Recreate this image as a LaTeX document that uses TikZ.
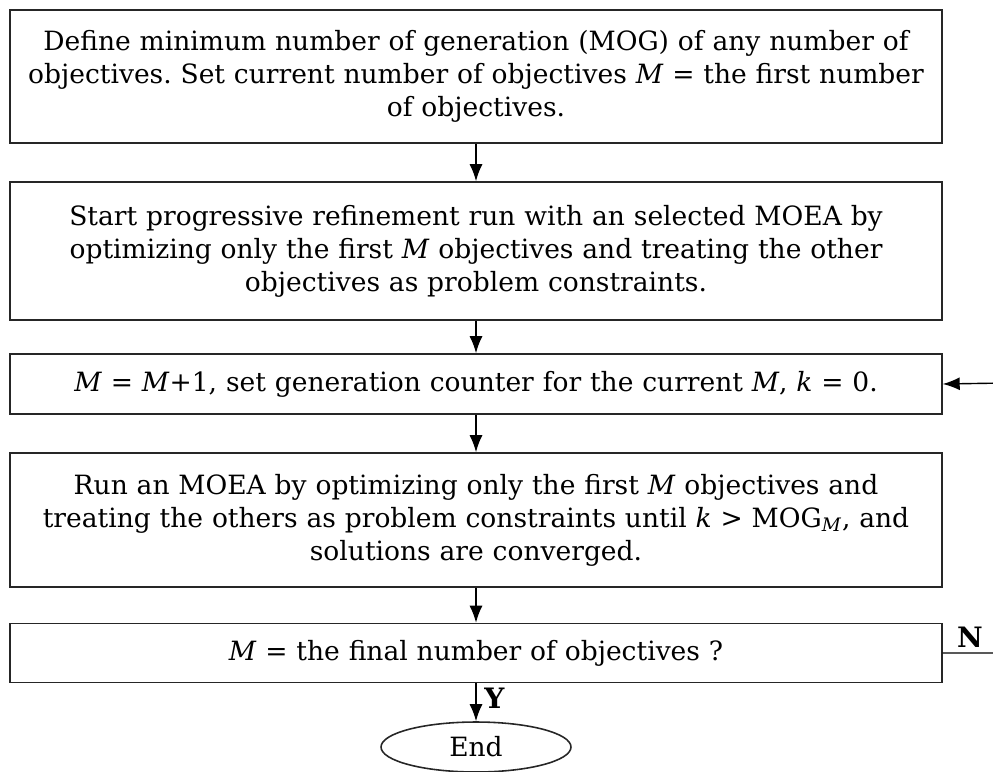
\documentclass[tikz,border=0pt]{standalone}
\usepackage{fontspec}
\setmainfont{DejaVu Serif}
\usepackage{tikz}
\usetikzlibrary{shapes,arrows,positioning,calc}
\usetikzlibrary{arrows.meta}
\frenchspacing

\newcommand{\vM}{\textit{M}}
\newcommand{\vk}{\textit{k}}

\begin{document}
\begin{tikzpicture}[
        x=0.02cm, y=-0.02cm,
        >={Latex[length=3.4mm,width=2.6mm]},
        every node/.style={font=\fontsize{15.1}{18.8}\selectfont},
        stepbox/.style={draw=black!85, line width=0.9pt, inner sep=0pt,
                        minimum width=18.64cm, text width=18.55cm, align=center},
        flow/.style={->, line width=0.8pt}
      ]

        \useasboundingbox (0,0) rectangle (993,771);

        % Boxes ---------------------------------------------------
        \node[stepbox, minimum height=2.66cm] (define) at (476,76.5)
          {Define minimum number of generation (MOG) of any number of\\
           objectives. Set current number of objectives \vM{} = the first number\\
           of objectives.};

        \node[stepbox, minimum height=2.76cm] (start) at (476,251)
          {Start progressive refinement run with an selected MOEA by\\
           optimizing only the first \vM{} objectives and treating the other\\
           objectives as problem constraints.};

        \node[stepbox, minimum height=1.2cm] (incr) at (476,384)
          {\vM{} = \vM+1, set generation counter for the current \vM, \vk{} = 0.};

        \node[stepbox, minimum height=2.68cm] (run) at (476,520)
          {Run an MOEA by optimizing only the first \vM{} objectives and\\
           treating the others as problem constraints until \vk{} > MOG\textsubscript{\vM}, and\\
           solutions are converged.};

        \node[stepbox, minimum height=1.18cm] (test) at (476,653)
          {\vM{} = the final number of objectives ?};

        \node[draw=black!85, line width=0.9pt, ellipse, minimum width=3.8cm,
              minimum height=1cm, inner sep=0pt] (end) at (476,747) {End};

        % Connectors ----------------------------------------------
        \draw[flow] (define) -- (start);
        \draw[flow] (start) -- (incr);
        \draw[flow] (incr) -- (run);
        \draw[flow] (run) -- (test);
        \draw[flow] (test) -- (end) node[pos=0.4, right=1pt, font=\fontsize{16}{18}\bfseries] {Y};

        % Feedback loop (No) --------------------------------------
        \coordinate (loopbot) at (1005,653);
        \coordinate (looptop) at (1005,383);
        \draw[flow] (test.east) -- (loopbot) -- (looptop) -- (incr.east);
        \node[font=\fontsize{16}{18}\bfseries] (no) at (970,637) {N};

      \end{tikzpicture}
\end{document}
